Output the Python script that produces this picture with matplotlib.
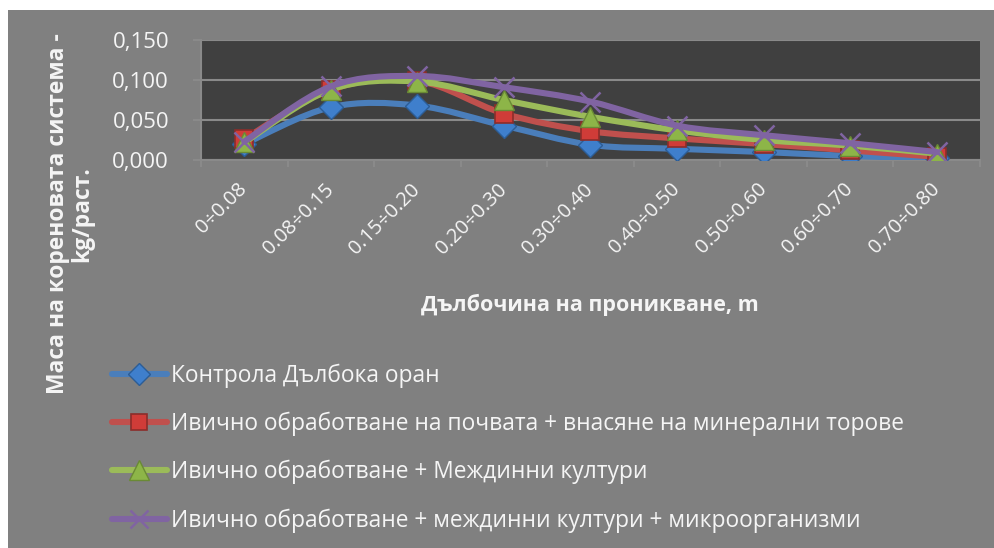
import matplotlib
matplotlib.use("Agg")
import matplotlib.pyplot as plt
import numpy as np
from matplotlib.path import Path
from matplotlib.patches import PathPatch, Rectangle
from matplotlib.lines import Line2D

plt.rcParams['font.family'] = ['Open Sans', 'DejaVu Sans']

# Depth layers (m)
categories = ["0÷0.08", "0.08÷0.15", "0.15÷0.20", "0.20÷0.30", "0.30÷0.40",
              "0.40÷0.50", "0.50÷0.60", "0.60÷0.70", "0.70÷0.80"]

# Root mass, kg per plant
control_deep_plough = [0.020, 0.066, 0.068, 0.043, 0.019, 0.014, 0.010, 0.005, 0.002]
strip_till_mineral = [0.026, 0.088, 0.099, 0.058, 0.036, 0.027, 0.020, 0.012, 0.004]
strip_till_cover = [0.022, 0.088, 0.098, 0.075, 0.054, 0.037, 0.025, 0.018, 0.008]
strip_till_cover_micro = [0.023, 0.092, 0.105, 0.091, 0.073, 0.043, 0.031, 0.021, 0.010]

series_names = ["Контрола Дълбока оран",
                "Ивично обработване на почвата + внасяне на минерални торове",
                "Ивично обработване + Междинни култури",
                "Ивично обработване + междинни култури + микроорганизми"]

y_ticks = [0.000, 0.050, 0.100, 0.150]
y_tick_labels = ["0,000", "0,050", "0,100", "0,150"]

x_title = "Дълбочина на проникване, m"
y_title = "Маса на кореновата система -\nkg/раст."

styles = [
    dict(color="#4a7ebb", marker="D", ms=12, mfc="#3f7fcc", mec="#2c5d96", mew=1.0),
    dict(color="#c0504d", marker="s", ms=13, mfc="#d03c38", mec="#8c2d2a", mew=1.2),
    dict(color="#9bbb59", marker="^", ms=15, mfc="#8db548", mec="#6a8a35", mew=1.0),
    dict(color="#8064a2", marker="x", ms=14, mfc="#8064a2", mec="#8064a2", mew=1.8),
]

W, H = 995, 548
fig = plt.figure(figsize=(W / 100, H / 100), dpi=100, facecolor="white")

# grey chart area
fig.patches.append(Rectangle((8 / W, 0), 1 - 8 / W, 1 - 10 / H,
                             transform=fig.transFigure, facecolor="#808080",
                             edgecolor="none", zorder=-10))

ax = fig.add_axes([201 / W, 1 - 160 / H, 779 / W, 120 / H])
ax.set_facecolor("#404040")


def smooth_path(xs, ys):
    pts = np.column_stack([xs, ys]).astype(float)
    n = len(pts)
    verts = [pts[0]]
    codes = [Path.MOVETO]
    for i in range(n - 1):
        p0 = pts[i - 1] if i > 0 else pts[i]
        p1 = pts[i]
        p2 = pts[i + 1]
        p3 = pts[i + 2] if i + 2 < n else pts[i + 1]
        c1 = p1 + (p2 - p0) / 6.0
        c2 = p2 - (p3 - p1) / 6.0
        verts += [c1, c2, p2]
        codes += [Path.CURVE4] * 3
    return Path(verts, codes)


x = np.arange(len(categories))
all_series = [control_deep_plough, strip_till_mineral, strip_till_cover, strip_till_cover_micro]
handles = []
for k, (vals, st) in enumerate(zip(all_series, styles)):
    patch = PathPatch(smooth_path(x, vals), fill=False, edgecolor=st["color"],
                      lw=4.4, capstyle="round", joinstyle="round", zorder=3 + k)
    ax.add_patch(patch)
    ax.plot(x, vals, linestyle="none", marker=st["marker"], ms=st["ms"],
            mfc=st["mfc"], mec=st["mec"], mew=st["mew"], zorder=3.5 + k)
    handles.append(Line2D([], [], color=st["color"], lw=4.4, solid_capstyle="round",
                          marker=st["marker"], ms=st["ms"] - 1, mfc=st["mfc"],
                          mec=st["mec"], mew=st["mew"]))

ax.set_xlim(-0.5, len(categories) - 0.5)
ax.set_ylim(0, 0.150)

# gridlines and axes
ax.set_yticks(y_ticks)
ax.set_yticklabels(y_tick_labels)
ax.yaxis.grid(True, color="#8a8a8a", lw=1.5)
ax.set_axisbelow(True)
for s in ["top", "right"]:
    ax.spines[s].set_visible(False)
for s in ["left", "bottom"]:
    ax.spines[s].set_color("#8a8a8a")
    ax.spines[s].set_linewidth(1.5)

ax.tick_params(axis="y", direction="out", length=6, width=1.5, color="#8a8a8a",
               labelsize=16, labelcolor="#f5f5f5", pad=17)

ax.set_xticks(np.arange(-0.5, len(categories), 1.0))
ax.set_xticklabels([])
ax.tick_params(axis="x", which="major", direction="out", length=5, width=1.5, color="#8a8a8a")
ax.set_xticks(x, minor=True)
ax.set_xticklabels(categories, minor=True, rotation=45, ha="right", va="center",
                   rotation_mode="anchor")
ax.tick_params(axis="x", which="minor", length=0, labelsize=14.5, labelcolor="#f5f5f5", pad=19)

fig.text(590 / W, 1 - 305 / H, x_title, ha="center", va="center", fontsize=15.5,
         fontweight="bold", color="#f5f5f5")
fig.text(70 / W, 1 - 214 / H, y_title, ha="center", va="center", rotation=90,
         fontsize=16.5, fontweight="bold", color="#f5f5f5", multialignment="center",
         linespacing=1.0)

leg = fig.legend(handles, series_names, loc="upper left",
                 bbox_to_anchor=(112 / W, 1 - 364 / H), frameon=False,
                 fontsize=16.4, labelcolor="#f5f5f5", handlelength=2.4,
                 handletextpad=0.2, labelspacing=1.04, borderpad=0, borderaxespad=0)

fig.savefig("out.png", dpi=100, facecolor="white")
